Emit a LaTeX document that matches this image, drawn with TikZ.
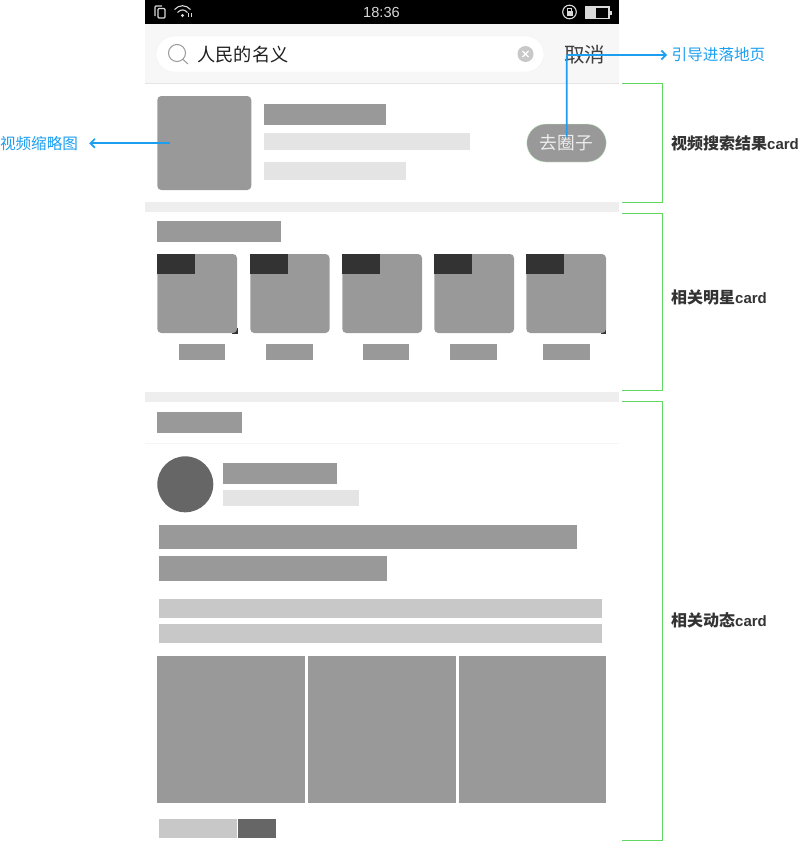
\documentclass[tikz,border=0pt]{standalone}
\usepackage{fontspec}
\usetikzlibrary{arrows.meta}
\setmainfont{Liberation Sans}
\newfontfamily\cjk{Noto Sans CJK SC}
\definecolor{barblue}{HTML}{1C9FF0}
\definecolor{bracegreen}{HTML}{62D862}
\definecolor{blockgray}{HTML}{999999}
\definecolor{paleblock}{HTML}{E4E4E4}
\definecolor{midblock}{HTML}{C8C8C8}
\definecolor{darkblock}{HTML}{666666}
\definecolor{cornerblock}{HTML}{333333}
\tikzset{
  blue arrow/.style={draw=barblue,line width=1.7pt,-{Straight Barb[length=4.5pt,width=9pt]}},
  card brace/.style={draw=bracegreen,line width=1pt},
  blue label/.style={text=barblue,font=\cjk\fontsize{15.6}{18}\selectfont,inner sep=0pt},
  card label/.style={text=cornerblock,font=\bfseries\fontsize{15}{18}\selectfont,inner sep=0pt,anchor=west},
  icon line/.style={draw=white!85!black,line width=1.1pt}
}
\begin{document}
\begin{tikzpicture}[x=1pt,y=-1pt]
\useasboundingbox (0,0) rectangle (800,841);

% phone frame
\fill[black] (145,0) rectangle (618.5,24);
\fill[black!3] (145,24) rectangle (618.5,83);
\draw[paleblock] (145,83) -- (618.5,83);
\fill[black!6.5] (145,202) rectangle (618.5,212);
\fill[black!6.5] (145,392) rectangle (618.5,402);
\draw[black!4] (145,443.5) -- (618.5,443.5);

% status bar
\draw[icon line,rounded corners=1pt] (155,16) -- (155,6) -- (162,6);
\draw[icon line,rounded corners=1pt] (158,8.5) rectangle (165,18);
\draw[icon line] (174.5,9.5) .. controls (179,4.5) and (186,4.5) .. (190.5,9.5);
\draw[icon line] (177.5,12.5) .. controls (181,9) and (184,9) .. (187.5,12.5);
\fill[white!85!black] (182.5,15.5) circle [radius=1.7];
\draw[icon line,line width=0.7pt] (188.5,13) -- (188.5,17);
\draw[icon line,line width=0.7pt] (191,13) -- (191,17);
\node[text=white!85!black,font=\fontsize{14.6}{16}\selectfont,inner sep=0pt] (clock) at (381.5,12.5) {18:36};
\draw[icon line] (569.5,12) circle [radius=6.8];
\fill[white!85!black] (566.5,11) rectangle (572.5,16);
\draw[icon line,line width=0.8pt] (567.5,11) -- (567.5,8.5) -- (571.5,8.5) -- (571.5,11);
\draw[icon line] (586,7) rectangle (609,18.5);
\fill[white!85!black] (587,8) rectangle (596,17.5);
\fill[white!85!black] (610,11) rectangle (611.5,15);

% search bar
\draw[black!6,fill=white] (156,36) [rounded corners=18pt] rectangle (544,72);
\draw[blockgray,line width=1pt] (177,53) circle [radius=8.5];
\draw[blockgray,line width=1pt] (183,59.5) -- (188,64);
\node[text=black!88,font=\cjk\fontsize{18.2}{20}\selectfont,inner sep=0pt] (query) at (243,54.5) {人民的名义};
\fill[midblock] (525.5,54) circle [radius=8];
\draw[white,line width=1.1pt] (522.5,51) -- (528.5,57);
\draw[white,line width=1.1pt] (528.5,51) -- (522.5,57);
\node[text=black!75,font=\cjk\fontsize{20.5}{22}\selectfont,inner sep=0pt] (cancel) at (584.5,54.5) {取消};

% video result card
\fill[blockgray,rounded corners=4pt] (157.3,96) rectangle (251.3,190);
\fill[blockgray] (263.8,104) rectangle (386,125);
\fill[paleblock] (263.8,132.5) rectangle (470,150);
\fill[paleblock] (263.8,162) rectangle (406,180);
\node[fill=blockgray,draw=bracegreen!35,rounded corners=19pt,minimum width=79.5pt,minimum height=38pt,inner sep=0pt,text=white!93!black,font=\cjk\fontsize{17.7}{20}\selectfont] (circlebtn) at (566.5,143) {去圈子};

% star card
\fill[blockgray] (157.3,221) rectangle (280.5,242);
\fill[cornerblock] (232,328) rectangle (237.5,333.5);
\fill[cornerblock] (601,328) rectangle (606.3,333.5);
\fill[blockgray,rounded corners=4pt] (157.3,254) rectangle (237,333);
\fill[blockgray,rounded corners=4pt] (250.3,254) rectangle (329.5,333);
\fill[blockgray,rounded corners=4pt] (342.3,254) rectangle (422,333);
\fill[blockgray,rounded corners=4pt] (434.3,254) rectangle (514,333);
\fill[blockgray,rounded corners=4pt] (526.3,254) rectangle (606,333);
\fill[cornerblock] (157.3,254) rectangle (195.3,274);
\fill[cornerblock] (250.3,254) rectangle (288.3,274);
\fill[cornerblock] (342.3,254) rectangle (380.3,274);
\fill[cornerblock] (434.3,254) rectangle (472.3,274);
\fill[cornerblock] (526.3,254) rectangle (564.3,274);
\fill[blockgray] (179,343.5) rectangle (225,360);
\fill[blockgray] (266.3,343.5) rectangle (313,360);
\fill[blockgray] (363,343.5) rectangle (409.3,360);
\fill[blockgray] (450.3,343.5) rectangle (497,360);
\fill[blockgray] (543.3,343.5) rectangle (590,360);

% moments card
\fill[blockgray] (157.3,412) rectangle (242,433);
\fill[darkblock] (185.3,484.3) circle [radius=28];
\fill[blockgray] (223.3,463) rectangle (337,484);
\fill[paleblock] (223.3,490) rectangle (359,505.5);
\fill[blockgray] (159.3,525) rectangle (577,549);
\fill[blockgray] (159.3,556) rectangle (387,581);
\fill[midblock] (159.3,598.5) rectangle (602,618);
\fill[midblock] (159.3,624) rectangle (602,643);
\fill[blockgray] (157.3,656) rectangle (305,803);
\fill[blockgray] (308.3,656) rectangle (456,803);
\fill[blockgray] (459,656) rectangle (606.3,803);
\fill[midblock] (159.3,819) rectangle (237,838);
\fill[darkblock] (238.3,819) rectangle (276,838);

% callouts
\coordinate (thumbmid) at (170,143.3);
\node[blue label,inner xsep=11pt] (thumblabel) at (39,143.3) {视频缩略图};
\draw[blue arrow] (thumbmid) -- (thumblabel);
\coordinate (btnstart) at (566.7,137);
\node[blue label,inner xsep=4.5pt] (guidelabel) at (718.5,55) {引导进落地页};
\draw[blue arrow,rounded corners=2pt] (btnstart) |- (guidelabel);

% card braces
\draw[card brace] (622,83.5) -- (662,83.5) -- (662,202.5) -- (622,202.5);
\draw[card brace] (622,213) -- (662,213) -- (662,390.5) -- (622,390.5);
\draw[card brace] (622,401) -- (662,401) -- (662,840) -- (622,840);
\node[card label] (resultlabel) at (671,143.5) {{\cjk\fontsize{16}{18}\selectfont 视频搜索结果}card};
\node[card label] (starlabel) at (671,297.5) {{\cjk\fontsize{16}{18}\selectfont 相关明星}card};
\node[card label] (momentlabel) at (671,620.5) {{\cjk\fontsize{16}{18}\selectfont 相关动态}card};
\end{tikzpicture}
\end{document}
